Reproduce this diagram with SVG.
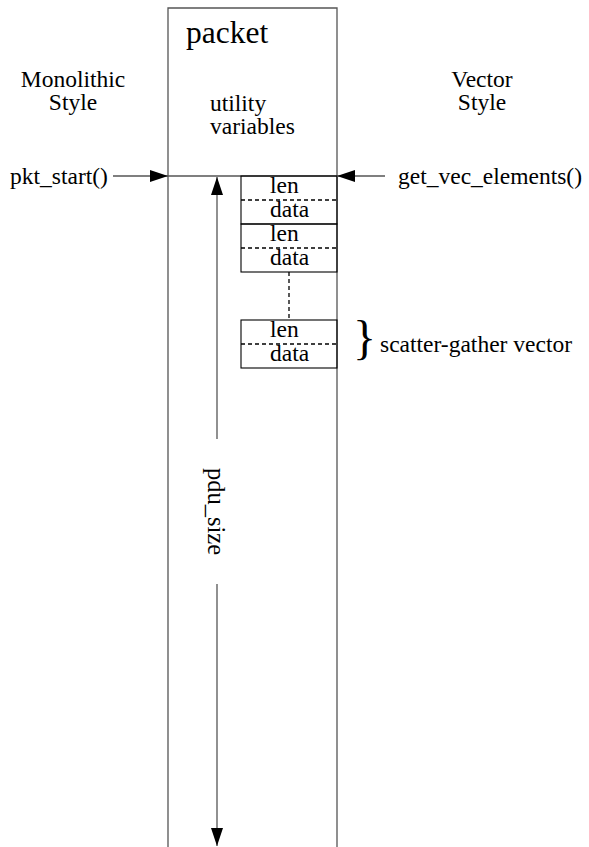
<svg xmlns="http://www.w3.org/2000/svg" width="589" height="847" viewBox="0 0 589 847">
<style>
text{font-family:"Liberation Serif","Times New Roman",serif;font-size:23.5px;fill:#000}
.g{stroke:#555;stroke-width:1.3;fill:none}
.b{stroke:#000;stroke-width:1.1;fill:none}
.d{stroke:#000;stroke-width:1.3;stroke-dasharray:4,3;fill:none}
.mid{text-anchor:middle}
</style>
<defs>
<marker id="ah" markerWidth="18" markerHeight="12" refX="18" refY="6" orient="auto" markerUnits="userSpaceOnUse">
<path d="M0,0 L18,6 L0,12 z" fill="#000"/>
</marker>
</defs>
<rect width="589" height="847" fill="#fff"/>
<g id="packet">
<path class="g" d="M168,847 V8 H337 V847"/>
<line class="g" x1="168" y1="176" x2="337" y2="176"/>
<text x="186" y="43" style="font-size:31.5px">packet</text>
<text x="210" y="111">utility</text>
<text x="210" y="134">variables</text>
</g>
<g id="monolithic">
<text class="mid" x="73" y="87">Monolithic</text>
<text class="mid" x="73" y="110">Style</text>
<text x="10" y="184">pkt_start()</text>
</g>
<g id="vector">
<text class="mid" x="482" y="87">Vector</text>
<text class="mid" x="482" y="110">Style</text>
<text x="398" y="184">get_vec_elements()</text>
</g>
<g id="sg-vector">
<rect class="b" x="241" y="176" width="96" height="48"/>
<line class="d" x1="241" y1="200" x2="337" y2="200"/>
<rect class="b" x="241" y="224" width="96" height="48"/>
<line class="d" x1="241" y1="248" x2="337" y2="248"/>
<line class="d" x1="289" y1="272" x2="289" y2="320"/>
<rect class="b" x="241" y="320" width="96" height="48"/>
<line class="d" x1="241" y1="344" x2="337" y2="344"/>
<text x="270" y="193">len</text>
<text x="270" y="217">data</text>
<text x="270" y="241">len</text>
<text x="270" y="265">data</text>
<text x="270" y="337">len</text>
<text x="270" y="361">data</text>
</g>
<g id="sg-label">
<text x="353" y="354" style="font-size:48px">}</text>
<text x="380" y="352">scatter-gather vector</text>
</g>
<g id="pdu-size">
<text x="0" y="0" transform="translate(208,468) rotate(90)" style="font-size:24.5px">pdu_size</text>
</g>
<g id="connectors">
<line class="g" x1="113" y1="176" x2="168" y2="176" marker-end="url(#ah)"/>
<line class="g" x1="385" y1="176" x2="337" y2="176" marker-end="url(#ah)"/>
<line class="g" x1="217" y1="439" x2="217" y2="177" marker-end="url(#ah)"/>
<line class="g" x1="217" y1="584" x2="217" y2="846" marker-end="url(#ah)"/>
</g>
</svg>
